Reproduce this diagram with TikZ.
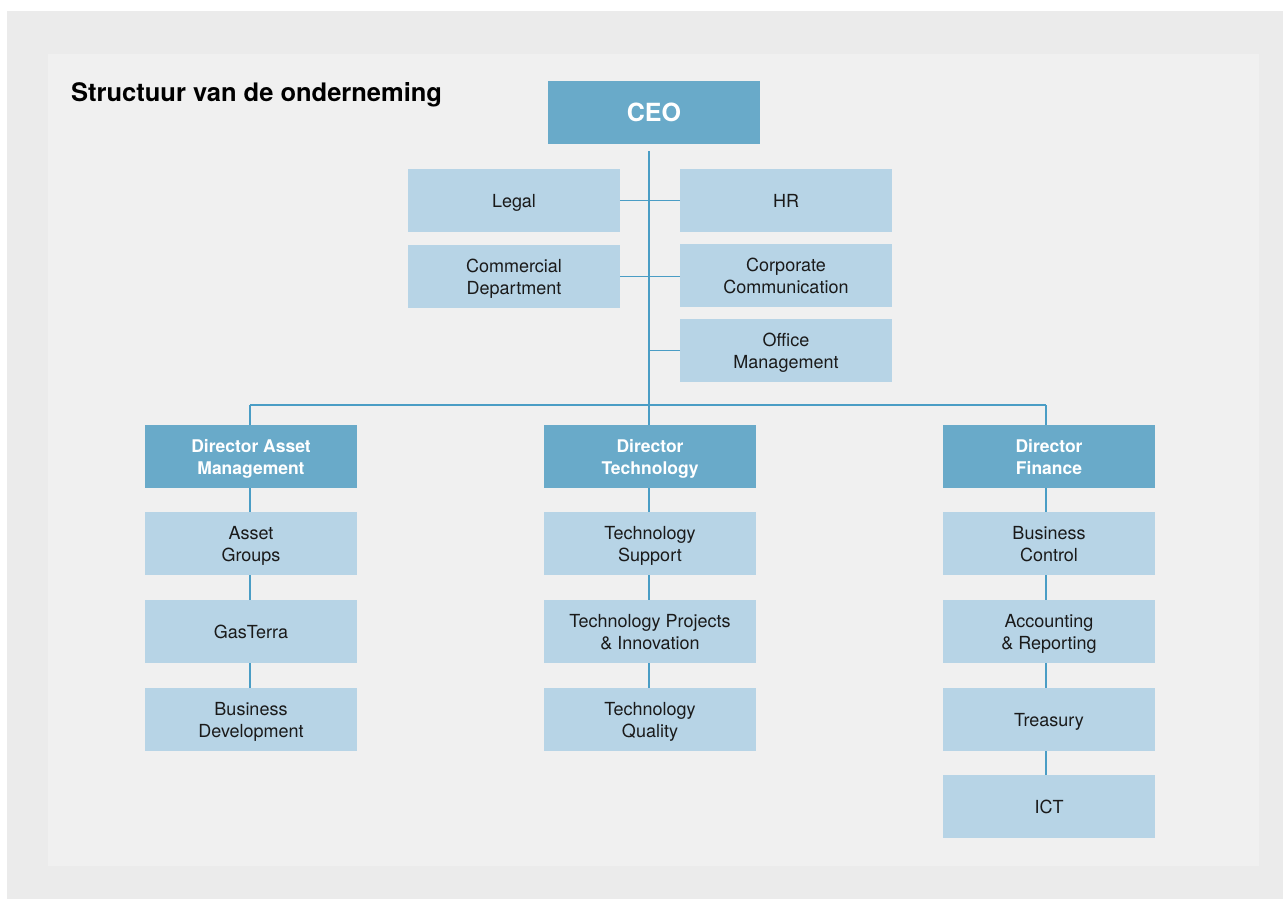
\documentclass[tikz,border=0pt]{standalone}
\usepackage{fontspec}
\setmainfont{TeX Gyre Heros}
\definecolor{outerbg}{HTML}{EBEBEB}
\definecolor{panelbg}{HTML}{F0F0F0}
\definecolor{darkbox}{HTML}{69AAC9}
\definecolor{lightbox}{HTML}{B7D4E6}
\definecolor{linec}{HTML}{4A9DC5}
\definecolor{textc}{HTML}{1A1A1A}
\pgfdeclarelayer{panel}
\pgfdeclarelayer{wires}
\pgfsetlayers{panel,wires,main}
\tikzset{
  box/.style={minimum width=212pt,minimum height=63pt,inner sep=0pt,align=center,
    text depth=0pt,font=\fontsize{18}{22}\selectfont,text=textc},
  lbox/.style={box,fill=lightbox},
  dbox/.style={box,fill=darkbox,text=white,font=\fontsize{17.5}{22}\selectfont\bfseries},
  conn/.style={draw=linec,line width=1.8pt}
}
\begin{document}
\begin{tikzpicture}[x=1pt,y=-1pt]
\useasboundingbox (0,0) rectangle (1283,899);
\begin{pgfonlayer}{panel}
\fill[white] (0,0) rectangle (1283,899);
\fill[outerbg] (7,11) rectangle (1283,899);
\fill[panelbg] (48,54) rectangle (1259,866);
\end{pgfonlayer}
\node[anchor=base west,inner sep=0pt,font=\fontsize{25.5}{30}\selectfont\bfseries,text=black] (title) at (71,102) {Structuur van de onderneming};

\node[dbox,font=\fontsize{25}{30}\selectfont\bfseries] (ceo) at (654,112.5) {CEO};
\node[lbox] (legal) at (514,200.5) {Legal};
\node[lbox] (hr) at (786,200.5) {HR};
\node[lbox] (comm) at (514,276.5) {Commercial\\Department};
\node[lbox] (corp) at (786,275.5) {Corporate\\Communication};
\node[lbox] (office) at (786,350.5) {Office\\Management};

\node[dbox] (dam) at (251,456.5) {Director Asset\\Management};
\node[dbox] (dtech) at (650,456.5) {Director\\Technology};
\node[dbox] (dfin) at (1049,456.5) {Director\\Finance};

\node[lbox] (ag) at (251,543.5) {Asset\\Groups};
\node[lbox] (gt) at (251,631.5) {GasTerra};
\node[lbox] (bd) at (251,719.5) {Business\\Development};

\node[lbox] (ts) at (650,543.5) {Technology\\Support};
\node[lbox] (tp) at (650,631.5) {Technology Projects\\\& Innovation};
\node[lbox] (tq) at (650,719.5) {Technology\\Quality};

\node[lbox] (bc) at (1049,543.5) {Business\\Control};
\node[lbox] (ar) at (1049,631.5) {Accounting\\\& Reporting};
\node[lbox] (tr) at (1049,719.5) {Treasury};
\node[lbox] (ict) at (1049,806.5) {ICT};

\coordinate (top) at (649,151);
\coordinate (hub) at (649,405);
\coordinate (hl) at (250,405);
\coordinate (hr2) at (1046,405);

\begin{pgfonlayer}{wires}
\draw[conn] (top) -- (hub);
\draw[conn] (hl) -- (hr2);
\draw[conn] (legal.east) -- (hr.west);
\draw[conn] (comm.east |- 0,276.5) -- (corp.west |- 0,276.5);
\draw[conn] (office.west) -- (office.west -| hub);
\draw[conn] (hl) -- (hl |- dam.north);
\draw[conn] (hub) -- (hub |- dtech.north);
\draw[conn] (hr2) -- (hr2 |- dfin.north);
\draw[conn] (dam.south -| hl) -- (bd.north -| hl);
\draw[conn] (dtech.south -| hub) -- (tq.north -| hub);
\draw[conn] (dfin.south -| hr2) -- (ict.north -| hr2);
\end{pgfonlayer}
\end{tikzpicture}
\end{document}
